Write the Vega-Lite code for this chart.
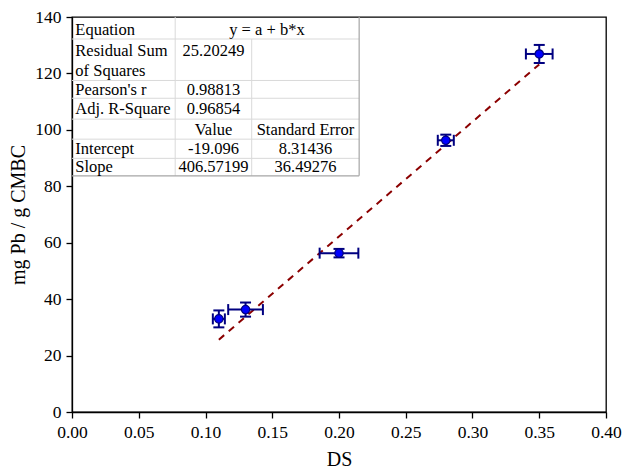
{
  "$schema": "https://vega.github.io/schema/vega-lite/v6.json",
  "width": 534,
  "height": 395,
  "autosize": "none",
  "padding": {"left": 72, "top": 17, "right": 16, "bottom": 57},
  "background": "white",
  "config": {
    "font": "Liberation Serif",
    "view": {"stroke": "black", "strokeWidth": 1.3},
    "axis": {
      "grid": false,
      "domainColor": "black",
      "domainWidth": 1.3,
      "tickColor": "black",
      "tickWidth": 1.3,
      "tickSize": 6,
      "labelColor": "black",
      "titleColor": "black",
      "labelFont": "Liberation Serif",
      "titleFont": "Liberation Serif",
      "labelFontSize": 17.5,
      "titleFontSize": 20,
      "titleFontWeight": "normal",
      "labelFlush": false,
      "labelPadding": 5
    }
  },
  "datasets": {
    "pts": [
      {"x": 0.11, "y": 33.0, "xlo": 0.1055, "xhi": 0.1145, "ylo": 30.0, "yhi": 36.0},
      {"x": 0.13, "y": 36.3, "xlo": 0.117, "xhi": 0.143, "ylo": 33.8, "yhi": 38.8},
      {"x": 0.20, "y": 56.3, "xlo": 0.1855, "xhi": 0.2145, "ylo": 54.8, "yhi": 57.8},
      {"x": 0.28, "y": 96.3, "xlo": 0.274, "xhi": 0.286, "ylo": 94.3, "yhi": 98.3},
      {"x": 0.35, "y": 126.9, "xlo": 0.34, "xhi": 0.36, "ylo": 123.7, "yhi": 130.1}
    ],
    "fit": [
      {"x": 0.11, "y": 25.63},
      {"x": 0.35, "y": 123.20}
    ],
    "innerLines": [
      {"x": 0, "x2": 0.2151, "y": 132.2, "y2": 132.2},
      {"x": 0, "x2": 0.2151, "y": 117.5, "y2": 117.5},
      {"x": 0, "x2": 0.2151, "y": 111.2, "y2": 111.2},
      {"x": 0, "x2": 0.2151, "y": 103.8, "y2": 103.8},
      {"x": 0, "x2": 0.2151, "y": 96.7, "y2": 96.7},
      {"x": 0, "x2": 0.2151, "y": 89.9, "y2": 89.9},
      {"x": 0.0773, "x2": 0.0773, "y": 83.7, "y2": 140},
      {"x": 0.1346, "x2": 0.1346, "y": 83.7, "y2": 132.2}
    ],
    "outerLines": [
      {"x": 0, "x2": 0.2151, "y": 83.7, "y2": 83.7},
      {"x": 0.2151, "x2": 0.2151, "y": 83.7, "y2": 140}
    ],
    "leftText": [
      {"x": 0.0025, "y": 135.3, "label": "Equation"},
      {"x": 0.0025, "y": 127.8, "label": "Residual Sum"},
      {"x": 0.0025, "y": 121.0, "label": "of Squares"},
      {"x": 0.0025, "y": 114.0, "label": "Pearson's r"},
      {"x": 0.0025, "y": 107.4, "label": "Adj. R-Square"},
      {"x": 0.0025, "y": 93.2, "label": "Intercept"},
      {"x": 0.0025, "y": 86.8, "label": "Slope"}
    ],
    "centerText": [
      {"x": 0.146, "y": 135.3, "label": "y = a + b*x"},
      {"x": 0.106, "y": 127.8, "label": "25.20249"},
      {"x": 0.106, "y": 114.0, "label": "0.98813"},
      {"x": 0.106, "y": 107.4, "label": "0.96854"},
      {"x": 0.106, "y": 99.9, "label": "Value"},
      {"x": 0.1749, "y": 99.9, "label": "Standard Error"},
      {"x": 0.106, "y": 93.2, "label": "-19.096"},
      {"x": 0.1749, "y": 93.2, "label": "8.31436"},
      {"x": 0.106, "y": 86.8, "label": "406.57199"},
      {"x": 0.1749, "y": 86.8, "label": "36.49276"}
    ]
  },
  "layer": [
    {
      "data": {"name": "innerLines"},
      "mark": {"type": "rule", "color": "#d9d9d9", "strokeWidth": 1},
      "encoding": {
        "x": {"field": "x", "type": "quantitative", "scale": {"domain": [0, 0.4], "nice": false}, "title": "DS",
              "axis": {"values": [0, 0.05, 0.1, 0.15, 0.2, 0.25, 0.3, 0.35, 0.4], "format": ".2f", "titlePadding": 9, "labelFont": "Liberation Serif", "titleFont": "Liberation Serif"}},
        "x2": {"field": "x2"},
        "y": {"field": "y", "type": "quantitative", "scale": {"domain": [0, 140], "nice": false}, "title": "mg Pb / g CMBC",
              "axis": {"values": [0, 20, 40, 60, 80, 100, 120, 140], "titlePadding": 6, "labelFont": "Liberation Serif", "titleFont": "Liberation Serif"}},
        "y2": {"field": "y2"}
      }
    },
    {
      "data": {"name": "outerLines"},
      "mark": {"type": "rule", "color": "#a6a6a6", "strokeWidth": 1.2},
      "encoding": {
        "x": {"field": "x", "type": "quantitative", "scale": {"domain": [0, 0.4], "nice": false}, "title": "DS"},
        "x2": {"field": "x2"},
        "y": {"field": "y", "type": "quantitative", "scale": {"domain": [0, 140], "nice": false}, "title": "mg Pb / g CMBC"},
        "y2": {"field": "y2"}
      }
    },
    {
      "data": {"name": "leftText"},
      "mark": {"type": "text", "align": "left", "baseline": "middle", "fontSize": 16.5, "font": "Liberation Serif", "color": "black"},
      "encoding": {
        "x": {"field": "x", "type": "quantitative", "scale": {"domain": [0, 0.4], "nice": false}, "title": "DS"},
        "y": {"field": "y", "type": "quantitative", "scale": {"domain": [0, 140], "nice": false}, "title": "mg Pb / g CMBC"},
        "text": {"field": "label"}
      }
    },
    {
      "data": {"name": "centerText"},
      "mark": {"type": "text", "align": "center", "baseline": "middle", "fontSize": 16.5, "font": "Liberation Serif", "color": "black"},
      "encoding": {
        "x": {"field": "x", "type": "quantitative", "scale": {"domain": [0, 0.4], "nice": false}, "title": "DS"},
        "y": {"field": "y", "type": "quantitative", "scale": {"domain": [0, 140], "nice": false}, "title": "mg Pb / g CMBC"},
        "text": {"field": "label"}
      }
    },
    {
      "data": {"name": "fit"},
      "mark": {"type": "line", "color": "#8b0000", "strokeWidth": 2, "strokeDash": [7, 6]},
      "encoding": {
        "x": {"field": "x", "type": "quantitative", "scale": {"domain": [0, 0.4], "nice": false}, "title": "DS"},
        "y": {"field": "y", "type": "quantitative", "scale": {"domain": [0, 140], "nice": false}, "title": "mg Pb / g CMBC"}
      }
    },
    {
      "data": {"name": "pts"},
      "mark": {"type": "rule", "color": "#000080", "strokeWidth": 2},
      "encoding": {
        "x": {"field": "xlo", "type": "quantitative", "scale": {"domain": [0, 0.4], "nice": false}, "title": "DS"},
        "x2": {"field": "xhi"},
        "y": {"field": "y", "type": "quantitative", "scale": {"domain": [0, 140], "nice": false}, "title": "mg Pb / g CMBC"}
      }
    },
    {
      "data": {"name": "pts"},
      "mark": {"type": "rule", "color": "#000080", "strokeWidth": 2},
      "encoding": {
        "x": {"field": "x", "type": "quantitative", "scale": {"domain": [0, 0.4], "nice": false}, "title": "DS"},
        "y": {"field": "ylo", "type": "quantitative", "scale": {"domain": [0, 140], "nice": false}, "title": "mg Pb / g CMBC"},
        "y2": {"field": "yhi"}
      }
    },
    {
      "data": {"name": "pts"},
      "mark": {"type": "tick", "orient": "vertical", "color": "#000080", "thickness": 2, "size": 11, "opacity": 1},
      "encoding": {
        "x": {"field": "xlo", "type": "quantitative", "scale": {"domain": [0, 0.4], "nice": false}, "title": "DS"},
        "y": {"field": "y", "type": "quantitative", "scale": {"domain": [0, 140], "nice": false}, "title": "mg Pb / g CMBC"}
      }
    },
    {
      "data": {"name": "pts"},
      "mark": {"type": "tick", "orient": "vertical", "color": "#000080", "thickness": 2, "size": 11, "opacity": 1},
      "encoding": {
        "x": {"field": "xhi", "type": "quantitative", "scale": {"domain": [0, 0.4], "nice": false}, "title": "DS"},
        "y": {"field": "y", "type": "quantitative", "scale": {"domain": [0, 140], "nice": false}, "title": "mg Pb / g CMBC"}
      }
    },
    {
      "data": {"name": "pts"},
      "mark": {"type": "tick", "orient": "horizontal", "color": "#000080", "thickness": 2, "size": 11, "opacity": 1},
      "encoding": {
        "x": {"field": "x", "type": "quantitative", "scale": {"domain": [0, 0.4], "nice": false}, "title": "DS"},
        "y": {"field": "ylo", "type": "quantitative", "scale": {"domain": [0, 140], "nice": false}, "title": "mg Pb / g CMBC"}
      }
    },
    {
      "data": {"name": "pts"},
      "mark": {"type": "tick", "orient": "horizontal", "color": "#000080", "thickness": 2, "size": 11, "opacity": 1},
      "encoding": {
        "x": {"field": "x", "type": "quantitative", "scale": {"domain": [0, 0.4], "nice": false}, "title": "DS"},
        "y": {"field": "yhi", "type": "quantitative", "scale": {"domain": [0, 140], "nice": false}, "title": "mg Pb / g CMBC"}
      }
    },
    {
      "data": {"name": "pts"},
      "mark": {"type": "point", "shape": "circle", "filled": true, "fill": "#0000ff", "stroke": "#000080", "strokeWidth": 1.2, "size": 70, "opacity": 1},
      "encoding": {
        "x": {"field": "x", "type": "quantitative", "scale": {"domain": [0, 0.4], "nice": false}, "title": "DS"},
        "y": {"field": "y", "type": "quantitative", "scale": {"domain": [0, 140], "nice": false}, "title": "mg Pb / g CMBC"}
      }
    }
  ]
}
